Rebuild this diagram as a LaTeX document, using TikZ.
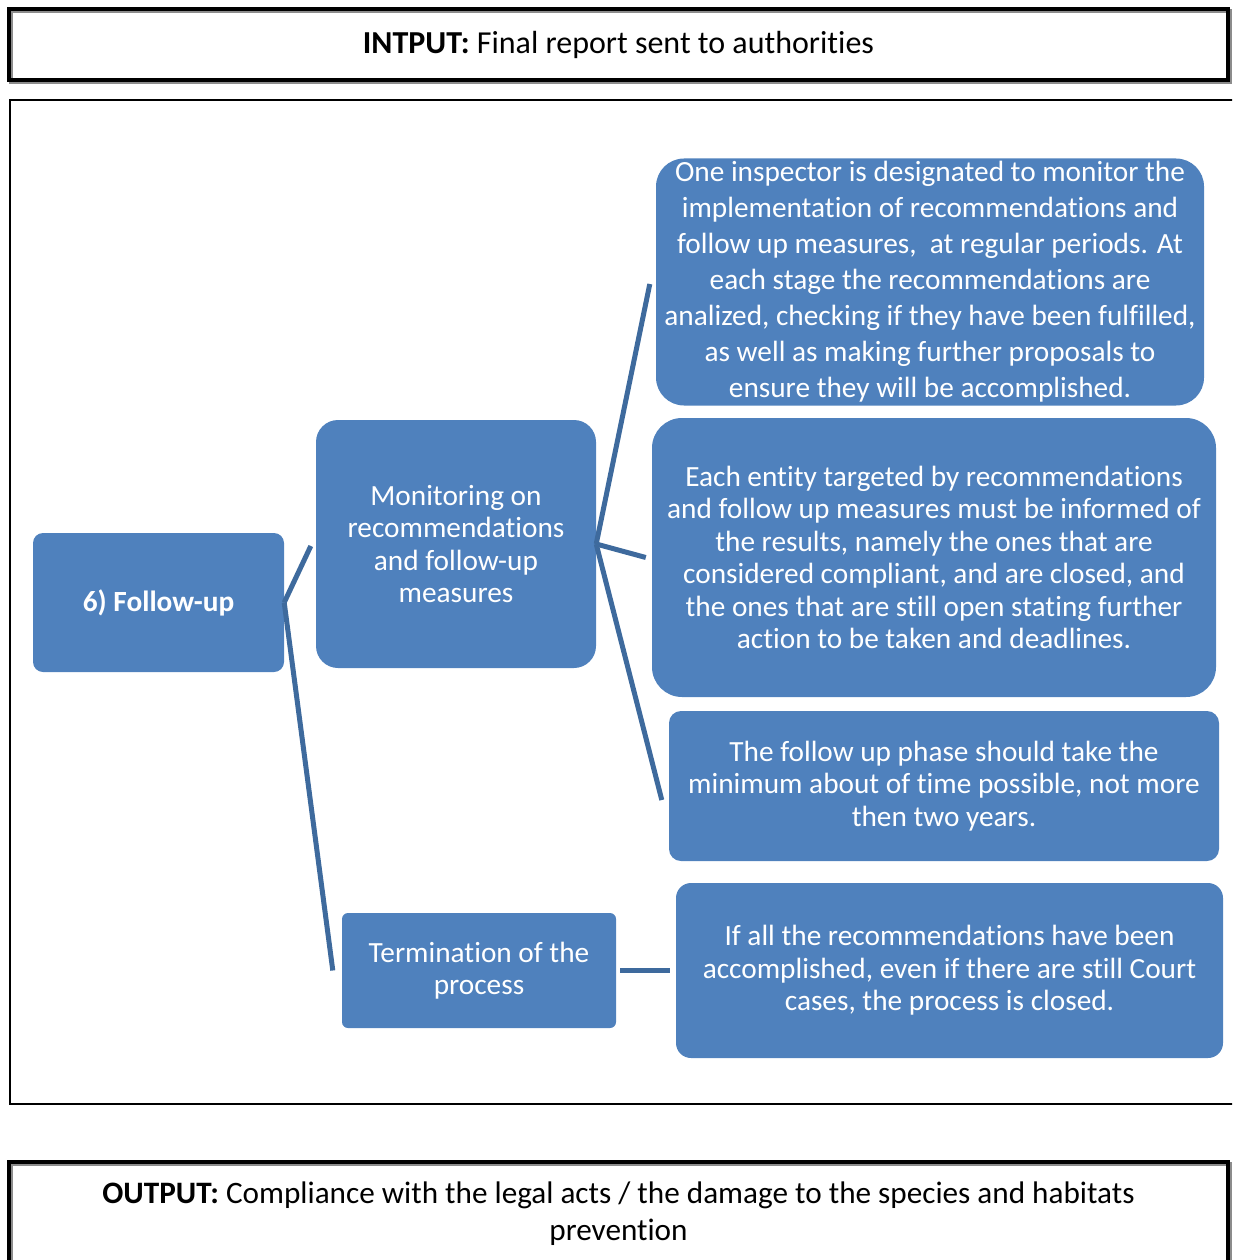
\documentclass[tikz,border=0pt]{standalone}
\usepackage{fontspec}
\setmainfont{Carlito}[RawFeature=-liga]
\usetikzlibrary{calc}
\definecolor{boxblue}{HTML}{4F81BD}
\definecolor{linkblue}{HTML}{3E6A9D}
\begin{document}
\begin{tikzpicture}[x=1pt,y=-1pt,
  blk/.style={fill=boxblue,draw=none,text=white,align=center,inner sep=0pt,
    font=\fontsize{29.3}{32.5}\selectfont},
  link/.style={draw=linkblue,line width=5pt},
  frame/.style={draw=black,line width=4pt},
  shadowline/.style={draw=black!45,line width=4pt}]
\useasboundingbox (0,0) rectangle (1232,1260);
\clip (0,0) rectangle (1232,1260);
% input box
\draw[shadowline] (11,11) rectangle (1230,82);
\node[frame,minimum width=1219pt,minimum height=71pt,inner sep=0pt,
  font=\fontsize{32}{37}\selectfont] (inp) at (618.5,44.5)
  {\textbf{INTPUT:} Final report sent to authorities};
% middle frame
\node[draw=black,line width=2pt,minimum width=1234pt,minimum height=1004pt,inner sep=0pt] (mid) at (627,602) {};
% output box
\draw[shadowline] (11,1164) rectangle (1230,1290);
\node[frame,minimum width=1219pt,minimum height=126pt,inner sep=0pt] (outp) at (618.5,1225) {};
\node[align=center,inner sep=0pt,font=\fontsize{31.2}{37}\selectfont] (outtxt) at (618.5,1214)
  {\textbf{OUTPUT:} Compliance with the legal acts / the damage to the species and habitats\\prevention};
% nodes
\node[blk,rounded corners=10pt,minimum width=251pt,minimum height=139pt,font=\fontsize{29.3}{32.5}\selectfont\bfseries] (fu) at (158.5,602.5) {6) Follow-up};
\node[blk,rounded corners=22pt,minimum width=280pt,minimum height=248pt] (mon) at (456,544)
  {Monitoring on\\recommendations\\and follow-up\\measures};
\node[blk,rounded corners=6pt,minimum width=274pt,minimum height=115pt] (term) at (479,970.5)
  {Termination of the\\process};
\node[blk,rounded corners=28pt,minimum width=548pt,minimum height=247pt,
  font=\fontsize{29.3}{36}\selectfont] (b1) at (930,282)
  {One inspector is designated to monitor the\\implementation of recommendations and\\follow up measures,\ \ at regular periods. At\\each stage the recommendations are\\analized, checking if they have been fulfilled,\\as well as making further proposals to\\ensure they will be accomplished.};
\node[blk,rounded corners=30pt,minimum width=564pt,minimum height=279pt] (b2) at (934,557.5)
  {Each entity targeted by recommendations\\and follow up measures must be informed of\\the results, namely the ones that are\\considered compliant, and are closed, and\\the ones that are still open stating further\\action to be taken and deadlines.};
\node[blk,rounded corners=12pt,minimum width=550pt,minimum height=150pt] (b3) at (944,786)
  {The follow up phase should take the\\minimum about of time possible, not more\\then two years.};
\node[blk,rounded corners=15pt,minimum width=547pt,minimum height=175pt] (b4) at (949.5,970.5)
  {If all the recommendations have been\\accomplished, even if there are still Court\\cases, the process is closed.};
% connectors
\draw[link] (fu.east) -- ($(mon.west)+(-5,2)$);
\draw[link] (fu.east) -- ($(term.west)+(-9,0)$);
\draw[link] (mon.east) -- ($(b1.west)+(-6,2)$);
\draw[link] (mon.east) -- ($(b2.west)+(-6,0)$);
\draw[link] (mon.east) -- ($(b3.west)+(-7,14)$);
\draw[link] ($(term.east)+(4,0)$) -- ($(b4.west)+(-6,0)$);
\end{tikzpicture}
\end{document}
